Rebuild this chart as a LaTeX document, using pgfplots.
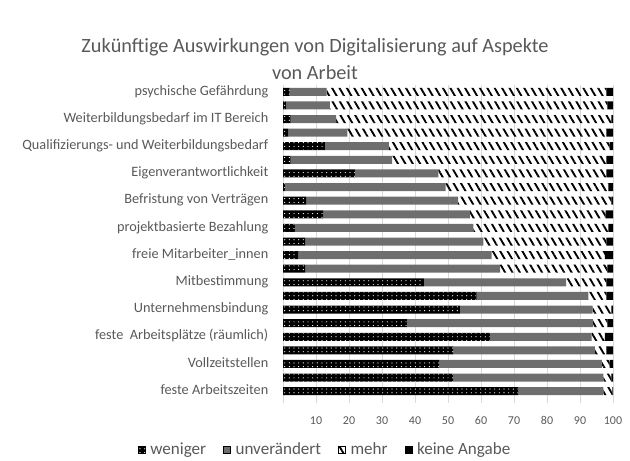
\documentclass[border=0pt]{standalone}
\usepackage{pgfplots}
\pgfplotsset{compat=1.18}
\usepackage{pgfplotstable}
\usepackage{fontspec}
\setmainfont{Carlito}
\usetikzlibrary{patterns,patterns.meta}
\definecolor{txt}{HTML}{595959}
\definecolor{gridc}{HTML}{D9D9D9}
\definecolor{unv}{HTML}{6E6E6E}
\pgfdeclarepatternformonly{sparsedots}{\pgfqpoint{-1pt}{-1pt}}{\pgfqpoint{1pt}{1pt}}{\pgfqpoint{3.5pt}{2.8pt}}{%
  \pgfpathcircle{\pgfqpoint{0pt}{0pt}}{0.45pt}\pgfusepath{fill}}
\pgfplotstableread{
y  w     u     m     k
23 2     11.2  84.8  2
22 1     13.2  84.1  1.7
21 2.3   13.8  83.4  0.5
20 1.6   17.9  78.5  2
19 12.7  19.4  66.9  1
18 2.3   30.8  64.9  2
17 21.8  25.3  50.9  2
16 0.6   48.7  49.3  1.4
15 7     46.1  46.4  0.5
14 12.2  44.5  41.1  2.2
13 3.6   54.1  40.9  1.4
12 6.7   54.0  37.3  2
11 4.6   58.6  34.3  2.5
10 6.7   59.1  32.5  1.7
9  42.7  43.1  12.2  2
8  58.7  33.8  5.5   2
7  53.6  40.2  5.7   0.5
6  37.5  56.5  4.3   1.7
5  62.7  30.8  4.0   2.5
4  51.6  42.9  3.5   2
3  47.4  49.2  2.4   1
2  51.6  45.5  2.4   0.5
1  71.3  25.8  2.7   0.2
}\data
\begin{document}
\begin{tikzpicture}
\path[use as bounding box] (-212.25pt,-46.5pt) rectangle (260.25pt,298.5pt);
\begin{axis}[
  at={(0,0)}, anchor=south west,
  scale only axis, width=247.5pt, height=234.75pt,
  xbar stacked, bar width=6pt,
  xmin=0, xmax=100, ymin=0.5, ymax=23.5,
  xtick={0,10,...,100},
  xticklabels={,10,20,30,40,50,60,70,80,90,100},
  ytick={1,3,...,23},
  yticklabels={feste Arbeitszeiten,Vollzeitstellen,feste\ \ Arbeitsplätze (räumlich),Unternehmensbindung,Mitbestimmung,freie Mitarbeiter\_innen,projektbasierte Bezahlung,Befristung von Verträgen,Eigenverantwortlichkeit,Qualifizierungs- und Weiterbildungsbedarf,Weiterbildungsbedarf im IT Bereich,psychische Gefährdung},
  /pgf/number format/assume math mode=true,
  typeset ticklabels with strut,
  axis x line*=bottom, axis y line*=left,
  x axis line style={draw=none},
  y axis line style={gridc},
  xmajorgrids, grid style={gridc, line width=0.6pt},
  tick align=outside, major tick length=3.5pt,
  xtick style={gridc, line width=0.6pt},
  ytick style={draw=none},
  xticklabel style={font=\fontsize{9}{10}\selectfont, text=txt, yshift=-5.5pt},
  yticklabel style={font=\fontsize{10.7}{12}\selectfont, text=txt, xshift=-4pt},
  title={Zukünftige Auswirkungen von Digitalisierung auf Aspekte\\von Arbeit},
  title style={at={(0.097,1.058)}, anchor=center, align=center, font=\fontsize{15.2}{20.5}\selectfont, text=txt},
  area legend,
  legend columns=4,
  legend style={at={(0.129,-0.166)}, anchor=center, draw=none, font=\fontsize{12.8}{14}\selectfont, text=txt,
    /tikz/every even column/.append style={column sep=11pt},
    /tikz/every odd column/.append style={column sep=1.5pt}},
  legend image code/.code={\draw[#1] (0pt,-2.6pt) rectangle (5.2pt,2.6pt);},
  clip=false,
]
\addplot[fill=black, draw=none, postaction={pattern=sparsedots, pattern color=white}] table[x=w,y=y]{\data};
\addplot[fill=unv, draw=none] table[x=u,y=y]{\data};
\addplot[draw=none, pattern={Lines[angle=-60, distance=4.8pt, line width=1.4pt]}, pattern color=black] table[x=m,y=y]{\data};
\addplot[fill=black, draw=none] table[x=k,y=y]{\data};
\legend{weniger,unverändert,mehr,keine Angabe}
\end{axis}
\end{tikzpicture}
\end{document}
